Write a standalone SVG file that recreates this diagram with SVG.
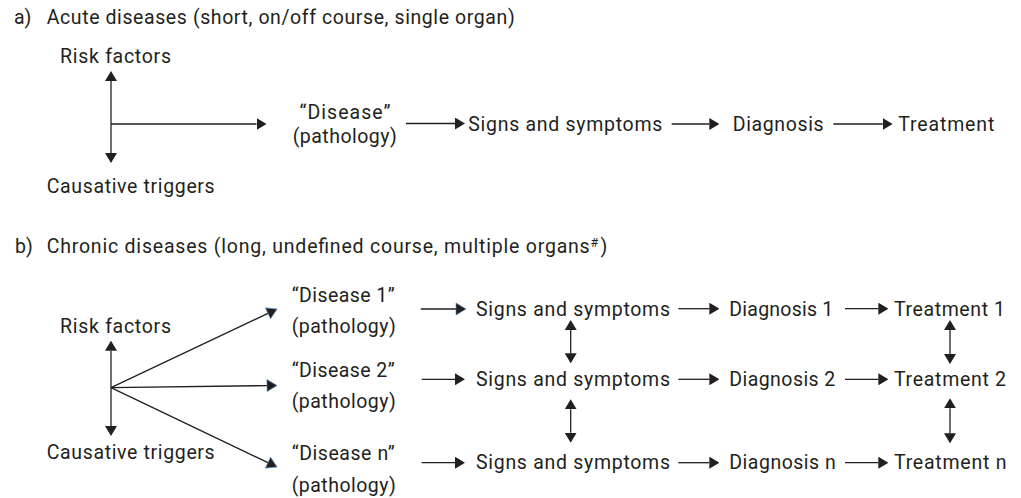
<svg xmlns="http://www.w3.org/2000/svg" width="1021" height="498" viewBox="0 0 1021 498">
<style>
text{font-family:Roboto,"Liberation Sans",sans-serif;font-size:19.5px;fill:#231f20}
.sup{font-size:12.5px}
.ln{stroke:#231f20;stroke-width:1.3;fill:none}
.a{marker-end:url(#ah)}
.b{marker-end:url(#ahb)}
.d{marker-start:url(#ah);marker-end:url(#ah)}
</style>
<defs>
<marker id="ah" viewBox="0 0 10 12" refX="0" refY="6" markerWidth="10" markerHeight="12" markerUnits="userSpaceOnUse" orient="auto-start-reverse"><path d="M0,0L10,6L0,12z" fill="#231f20"/></marker>
<marker id="ahb" viewBox="-1 -1 12 14" refX="0" refY="6" markerWidth="12" markerHeight="14" markerUnits="userSpaceOnUse" orient="auto"><path d="M0,0L10,6L0,12z" fill="#231f20" stroke="#4a86c8" stroke-width="0.6"/></marker>
</defs>
<rect width="1021" height="498" fill="#fff"/>

<g id="title-a"><text x="14" y="24">a)</text><text x="46.7" y="24" textLength="468" lengthAdjust="spacing">Acute diseases (short, on/off course, single organ)</text></g>
<g id="a-risk"><text x="60" y="63" textLength="111" lengthAdjust="spacing">Risk factors</text></g>
<g id="a-causative"><text x="46.7" y="193" textLength="168" lengthAdjust="spacing">Causative triggers</text></g>
<g id="a-disease"><text x="299.5" y="119.3" textLength="91" lengthAdjust="spacing">“Disease”</text><text x="292.7" y="142.5" textLength="104" lengthAdjust="spacing">(pathology)</text></g>
<g id="a-signs"><text x="468.3" y="130.7" textLength="194" lengthAdjust="spacing">Signs and symptoms</text></g>
<g id="a-diagnosis"><text x="732.7" y="130.7" textLength="91" lengthAdjust="spacing">Diagnosis</text></g>
<g id="a-treatment"><text x="898.3" y="130.7" textLength="96" lengthAdjust="spacing">Treatment</text></g>

<g id="title-b"><text x="15" y="253.3">b)</text><text x="46.7" y="253.3" textLength="543" lengthAdjust="spacing">Chronic diseases (long, undefined course, multiple organs</text><text class="sup" x="590.5" y="246.5">#</text><text x="600.5" y="253.3">)</text></g>
<g id="b-risk"><text x="60" y="333.3" textLength="111" lengthAdjust="spacing">Risk factors</text></g>
<g id="b-causative"><text x="46.7" y="459.3" textLength="168" lengthAdjust="spacing">Causative triggers</text></g>
<g id="b-disease1"><text x="291.7" y="301.7" textLength="103" lengthAdjust="spacing">“Disease 1”</text><text x="291.7" y="333.3" textLength="104" lengthAdjust="spacing">(pathology)</text></g>
<g id="b-disease2"><text x="291.7" y="376.7" textLength="103" lengthAdjust="spacing">“Disease 2”</text><text x="291.7" y="408.3" textLength="104" lengthAdjust="spacing">(pathology)</text></g>
<g id="b-diseasen"><text x="291.7" y="460" textLength="103" lengthAdjust="spacing">“Disease n”</text><text x="291.7" y="491.7" textLength="104" lengthAdjust="spacing">(pathology)</text></g>
<g id="b-signs1"><text x="476" y="315.5" textLength="194" lengthAdjust="spacing">Signs and symptoms</text></g>
<g id="b-signs2"><text x="476" y="386" textLength="194" lengthAdjust="spacing">Signs and symptoms</text></g>
<g id="b-signsn"><text x="476" y="469" textLength="194" lengthAdjust="spacing">Signs and symptoms</text></g>
<g id="b-diagnosis1"><text x="729.3" y="315.5" textLength="104" lengthAdjust="spacing">Diagnosis 1</text></g>
<g id="b-diagnosis2"><text x="729.3" y="386" textLength="106" lengthAdjust="spacing">Diagnosis 2</text></g>
<g id="b-diagnosisn"><text x="729.3" y="469" textLength="106.5" lengthAdjust="spacing">Diagnosis n</text></g>
<g id="b-treatment1"><text x="894" y="315.5" textLength="111" lengthAdjust="spacing">Treatment 1</text></g>
<g id="b-treatment2"><text x="894" y="386" textLength="112" lengthAdjust="spacing">Treatment 2</text></g>
<g id="b-treatmentn"><text x="894" y="469" textLength="112.5" lengthAdjust="spacing">Treatment n</text></g>

<g id="connectors">
<line class="ln d" x1="111" y1="81" x2="111" y2="153"/>
<line class="ln a" x1="111" y1="124" x2="256.5" y2="124"/>
<line class="ln a" x1="406" y1="123.5" x2="455" y2="123.5"/>
<line class="ln a" x1="671.7" y1="124" x2="709.3" y2="124"/>
<line class="ln a" x1="833.3" y1="124" x2="882.7" y2="124"/>

<line class="ln d" x1="111" y1="350.7" x2="111" y2="426"/>
<line class="ln b" x1="111" y1="387.7" x2="268" y2="313.3"/>
<line class="ln b" x1="111" y1="387.7" x2="267" y2="385.6"/>
<line class="ln b" x1="111" y1="387.7" x2="268" y2="462.7"/>
<line class="ln b" x1="420.7" y1="309" x2="456" y2="309"/>
<line class="ln a" x1="421.7" y1="379.3" x2="455" y2="379.3"/>
<line class="ln a" x1="421.7" y1="462.7" x2="455" y2="462.7"/>
<line class="ln a" x1="678.3" y1="308.7" x2="709.3" y2="308.7"/>
<line class="ln a" x1="678.3" y1="379.3" x2="709.3" y2="379.3"/>
<line class="ln a" x1="678.3" y1="462.7" x2="709.3" y2="462.7"/>
<line class="ln a" x1="845" y1="308.7" x2="878.3" y2="308.7"/>
<line class="ln a" x1="845" y1="379.3" x2="878.3" y2="379.3"/>
<line class="ln a" x1="845" y1="462.7" x2="878.3" y2="462.7"/>
<line class="ln d" x1="570.7" y1="330" x2="570.7" y2="353.3"/>
<line class="ln d" x1="570.7" y1="409.3" x2="570.7" y2="432.7"/>
<line class="ln d" x1="950" y1="330" x2="950" y2="354"/>
<line class="ln d" x1="950" y1="408.3" x2="950" y2="433.3"/>
</g>
</svg>
